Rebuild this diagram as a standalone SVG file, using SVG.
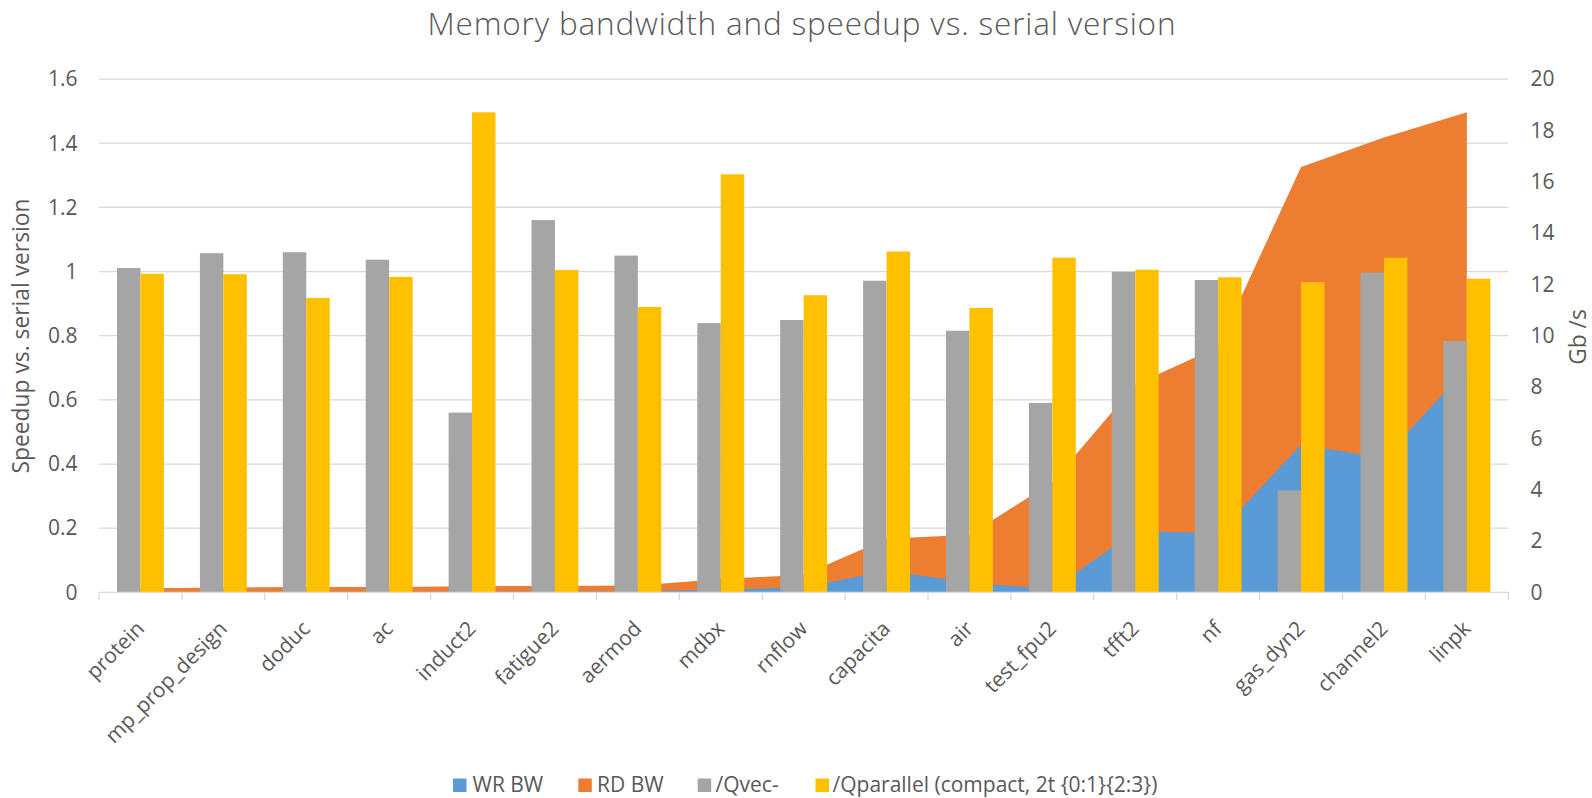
<svg xmlns="http://www.w3.org/2000/svg" width="1592" height="798" viewBox="0 0 1592 798">
<style>
text{font-family:"Open Sans","Noto Sans","Liberation Sans",sans-serif;fill:#595959}
.grid{stroke:#D9D9D9;stroke-width:1.25;fill:none}
.tl{font-size:21px;text-anchor:end}
.tr{font-size:21px;text-anchor:start}
.cat{font-size:21px;text-anchor:end}
.ax{font-size:22.8px;text-anchor:middle}
.lg{font-size:21px}
.g{fill:#A5A5A5}
.y{fill:#FFC000}
.rd{fill:#ED7D31}
.wr{fill:#5B9BD5}
</style>
<rect width="1592" height="798" fill="#FFFFFF"/>
<text id="title" x="801.5" y="34.5" font-size="31.5" font-weight="300" text-anchor="middle" textLength="748" lengthAdjust="spacing">Memory bandwidth and speedup vs. serial version</text>
<g id="gridlines">
<path class="grid" d="M99 528.1H1508.3M99 464H1508.3M99 399.8H1508.3M99 335.7H1508.3M99 271.5H1508.3M99 207.3H1508.3M99 143.2H1508.3M99 79H1508.3"/>
</g>
<g id="areas">
<polygon id="rd-bw" class="rd" points="140.45,588.2 223.35,587.4 306.25,586.9 389.15,586.9 472.05,586.2 554.95,585.9 637.85,585.4 720.75,579 803.65,574.8 886.55,538.7 969.45,534.8 1052.35,482.2 1135.25,384.8 1218.15,346.7 1301.05,167.1 1383.95,137.5 1466.85,112.3 1466.85,592.3 140.45,592.3"/>
<polygon id="wr-bw" class="wr" points="140.45,591.8 223.35,591.8 306.25,591.7 389.15,591.7 472.05,591.6 554.95,591.5 637.85,591.2 720.75,589.8 803.65,587.4 886.55,570.7 969.45,582.5 1052.35,589.2 1135.25,531.3 1218.15,533.2 1301.05,444.7 1383.95,458.1 1466.85,368 1466.85,592.3 140.45,592.3"/>
</g>
<g id="bars-qvec">
<rect class="g" x="117" y="268" width="23.45" height="324.3"/>
<rect class="g" x="199.9" y="253.2" width="23.45" height="339.1"/>
<rect class="g" x="282.8" y="252.2" width="23.45" height="340.1"/>
<rect class="g" x="365.7" y="259.7" width="23.45" height="332.6"/>
<rect class="g" x="448.6" y="412.6" width="23.45" height="179.7"/>
<rect class="g" x="531.5" y="220.1" width="23.45" height="372.2"/>
<rect class="g" x="614.4" y="255.6" width="23.45" height="336.7"/>
<rect class="g" x="697.3" y="323.1" width="23.45" height="269.2"/>
<rect class="g" x="780.2" y="320" width="23.45" height="272.3"/>
<rect class="g" x="863.1" y="280.7" width="23.45" height="311.6"/>
<rect class="g" x="946" y="330.7" width="23.45" height="261.6"/>
<rect class="g" x="1028.9" y="403" width="23.45" height="189.3"/>
<rect class="g" x="1111.8" y="271.8" width="23.45" height="320.5"/>
<rect class="g" x="1194.7" y="280" width="23.45" height="312.3"/>
<rect class="g" x="1277.6" y="490.4" width="23.45" height="101.9"/>
<rect class="g" x="1360.5" y="272.5" width="23.45" height="319.8"/>
<rect class="g" x="1443.4" y="341" width="23.45" height="251.3"/>
</g>
<g id="bars-qparallel">
<rect class="y" x="140.45" y="273.8" width="23.45" height="318.5"/>
<rect class="y" x="223.35" y="274.2" width="23.45" height="318.1"/>
<rect class="y" x="306.25" y="297.9" width="23.45" height="294.4"/>
<rect class="y" x="389.15" y="276.9" width="23.45" height="315.4"/>
<rect class="y" x="472.05" y="112.3" width="23.45" height="480"/>
<rect class="y" x="554.95" y="270.1" width="23.45" height="322.2"/>
<rect class="y" x="637.85" y="306.9" width="23.45" height="285.4"/>
<rect class="y" x="720.75" y="174.3" width="23.45" height="418"/>
<rect class="y" x="803.65" y="295.2" width="23.45" height="297.1"/>
<rect class="y" x="886.55" y="251.5" width="23.45" height="340.8"/>
<rect class="y" x="969.45" y="307.9" width="23.45" height="284.4"/>
<rect class="y" x="1052.35" y="257.7" width="23.45" height="334.6"/>
<rect class="y" x="1135.25" y="269.7" width="23.45" height="322.6"/>
<rect class="y" x="1218.15" y="277.3" width="23.45" height="315"/>
<rect class="y" x="1301.05" y="282.1" width="23.45" height="310.2"/>
<rect class="y" x="1383.95" y="257.7" width="23.45" height="334.6"/>
<rect class="y" x="1466.85" y="278.7" width="23.45" height="313.6"/>
</g>
<g id="category-axis">
<path class="grid" d="M99 592.3H1508.3M99 592.3V600M181.9 592.3V600M264.8 592.3V600M347.7 592.3V600M430.6 592.3V600M513.5 592.3V600M596.4 592.3V600M679.3 592.3V600M762.2 592.3V600M845.1 592.3V600M928 592.3V600M1010.9 592.3V600M1093.8 592.3V600M1176.7 592.3V600M1259.6 592.3V600M1342.5 592.3V600M1425.4 592.3V600M1508.3 592.3V600"/>
<text class="cat" transform="translate(145.5 630) rotate(-45)">protein</text>
<text class="cat" transform="translate(228.4 630) rotate(-45)">mp_prop_design</text>
<text class="cat" transform="translate(311.3 630) rotate(-45)">doduc</text>
<text class="cat" transform="translate(394.2 630) rotate(-45)">ac</text>
<text class="cat" transform="translate(477.1 630) rotate(-45)">induct2</text>
<text class="cat" transform="translate(560 630) rotate(-45)">fatigue2</text>
<text class="cat" transform="translate(642.9 630) rotate(-45)">aermod</text>
<text class="cat" transform="translate(725.8 630) rotate(-45)">mdbx</text>
<text class="cat" transform="translate(808.7 630) rotate(-45)">rnflow</text>
<text class="cat" transform="translate(891.6 630) rotate(-45)">capacita</text>
<text class="cat" transform="translate(974.5 630) rotate(-45)">air</text>
<text class="cat" transform="translate(1057.4 630) rotate(-45)">test_fpu2</text>
<text class="cat" transform="translate(1140.3 630) rotate(-45)">tfft2</text>
<text class="cat" transform="translate(1223.2 630) rotate(-45)">nf</text>
<text class="cat" transform="translate(1306.1 630) rotate(-45)">gas_dyn2</text>
<text class="cat" transform="translate(1389 630) rotate(-45)">channel2</text>
<text class="cat" transform="translate(1471.9 630) rotate(-45)">linpk</text>
</g>
<g id="left-axis">
<text class="tl" x="77.5" y="599.6">0</text>
<text class="tl" x="77.5" y="535.4">0.2</text>
<text class="tl" x="77.5" y="471.3">0.4</text>
<text class="tl" x="77.5" y="407.1">0.6</text>
<text class="tl" x="77.5" y="343">0.8</text>
<text class="tl" x="77.5" y="278.8">1</text>
<text class="tl" x="77.5" y="214.6">1.2</text>
<text class="tl" x="77.5" y="150.5">1.4</text>
<text class="tl" x="77.5" y="86.3">1.6</text>
<text class="ax" transform="translate(29 336) rotate(-90)">Speedup vs. serial version</text>
</g>
<g id="right-axis">
<text class="tr" x="1530.5" y="599.6">0</text>
<text class="tr" x="1530.5" y="548.3">2</text>
<text class="tr" x="1530.5" y="496.9">4</text>
<text class="tr" x="1530.5" y="445.6">6</text>
<text class="tr" x="1530.5" y="394.3">8</text>
<text class="tr" x="1530.5" y="343">10</text>
<text class="tr" x="1530.5" y="291.6">12</text>
<text class="tr" x="1530.5" y="240.3">14</text>
<text class="tr" x="1530.5" y="189">16</text>
<text class="tr" x="1530.5" y="137.6">18</text>
<text class="tr" x="1530.5" y="86.3">20</text>
<text class="ax" transform="translate(1586 337) rotate(-90)">Gb /s</text>
</g>
<g id="legend">
<rect class="wr" x="453" y="778.5" width="13.5" height="13.5"/>
<text class="lg" x="472.5" y="792">WR BW</text>
<rect class="rd" x="578.3" y="778.5" width="13.5" height="13.5"/>
<text class="lg" x="597" y="792">RD BW</text>
<rect class="g" x="697.7" y="778.5" width="13.5" height="13.5"/>
<text class="lg" x="715.5" y="792">/Qvec-</text>
<rect class="y" x="815.5" y="778.5" width="13.5" height="13.5"/>
<text class="lg" x="832.5" y="792">/Qparallel (compact, 2t {0:1}{2:3})</text>
</g>
</svg>
